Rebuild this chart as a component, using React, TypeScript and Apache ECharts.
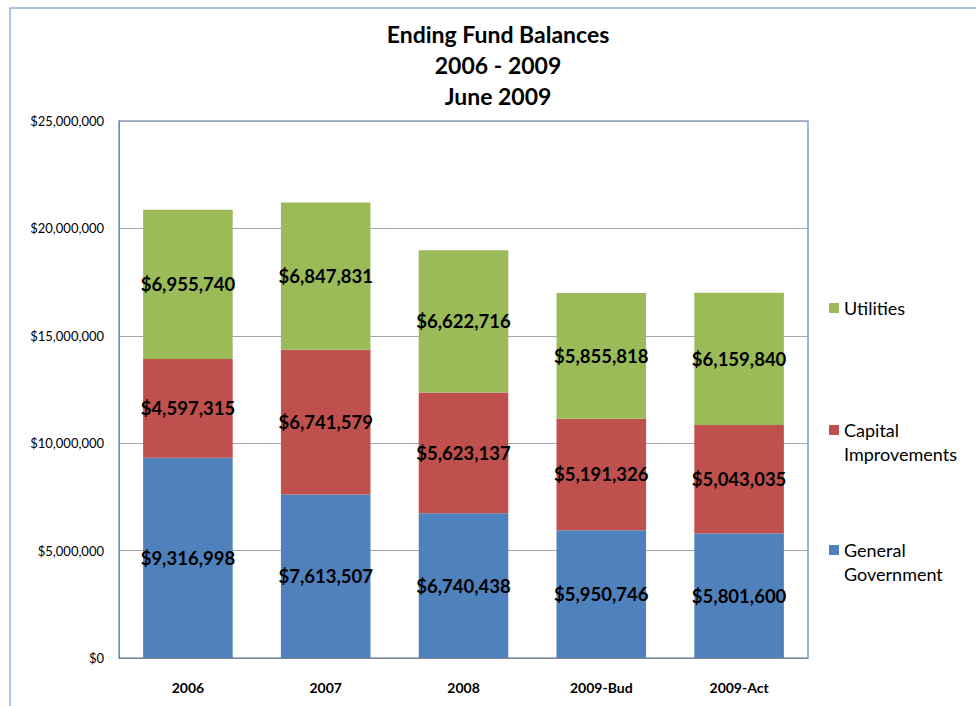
import React, { useEffect, useRef } from "react";
import * as echarts from "echarts";

const categories = ["2006", "2007", "2008", "2009-Bud", "2009-Act"];
const generalGovernment = [9316998, 7613507, 6740438, 5950746, 5801600];
const capitalImprovements = [4597315, 6741579, 5623137, 5191326, 5043035];
const utilities = [6955740, 6847831, 6622716, 5855818, 6159840];
const titleLines = ["Ending Fund Balances", "2006 - 2009", "June 2009"];

const FONT = "Lato";

const money = (v: number) => "$" + Math.round(v).toLocaleString("en-US");

export default function App() {
  const ref = useRef<HTMLDivElement>(null);
  useEffect(() => {
    if (!ref.current) return;
    const chart = echarts.init(ref.current, undefined, { renderer: "svg" });
    const label = {
      show: true,
      position: "inside",
      color: "#000",
      fontFamily: FONT,
      fontWeight: "bold",
      fontSize: 18.5,
      formatter: (p: any) => money(p.value),
    };
    const legendBase = {
      orient: "vertical",
      left: 829,
      padding: 0,
      itemWidth: 10,
      itemHeight: 10,
      icon: "rect",
      selectedMode: false,
    };
    const legendText = {
      fontFamily: FONT,
      fontSize: 18,
      color: "#000",
      lineHeight: 24,
    };
    chart.setOption({
      animation: false,
      backgroundColor: "#fff",
      color: ["#4f81bd", "#c0504d", "#9bbb59"],
      title: {
        text: titleLines.join("\n"),
        left: 493,
        top: 13,
        textAlign: "center",
        textStyle: {
          fontFamily: FONT,
          fontWeight: "bold",
          fontSize: 23,
          lineHeight: 31,
          color: "#000",
        },
      },
      legend: [
        { ...legendBase, top: 296, data: ["Utilities"], textStyle: legendText },
        {
          ...legendBase,
          top: 394,
          data: ["Capital Improvements"],
          formatter: () => "\nCapital\nImprovements",
          textStyle: legendText,
        },
        {
          ...legendBase,
          top: 514,
          data: ["General Government"],
          formatter: () => "\nGeneral\nGovernment",
          textStyle: legendText,
        },
      ],
      grid: {
        left: 119,
        top: 121,
        right: 168,
        bottom: 48,
        show: true,
        borderColor: "#7f9ccb",
        borderWidth: 1.5,
        containLabel: false,
      },
      xAxis: {
        type: "category",
        data: categories,
        axisLine: { show: true, lineStyle: { color: "#868686", width: 1 } },
        axisTick: { show: false },
        axisLabel: {
          margin: 22,
          fontFamily: FONT,
          fontWeight: "bold",
          fontSize: 14,
          color: "#000",
        },
      },
      yAxis: {
        type: "value",
        min: 0,
        max: 25000000,
        interval: 5000000,
        axisLine: { show: true, lineStyle: { color: "#868686", width: 1 } },
        axisTick: { show: false },
        splitLine: { lineStyle: { color: "#a6a6a6", width: 1 } },
        axisLabel: {
          margin: 15,
          fontFamily: FONT,
          fontSize: 13,
          color: "#000",
          formatter: (v: number) => money(v),
        },
      },
      graphic: [
        {
          type: "rect",
          shape: { x: 10, y: 8, width: 990, height: 720 },
          style: { fill: "none", stroke: "#8db3e2", lineWidth: 1.5 },
          silent: true,
        },
      ],
      series: [
        {
          name: "General Government",
          type: "bar",
          stack: "total",
          barWidth: "65%",
          data: generalGovernment,
          label,
        },
        {
          name: "Capital Improvements",
          type: "bar",
          stack: "total",
          barWidth: "65%",
          data: capitalImprovements,
          label,
        },
        {
          name: "Utilities",
          type: "bar",
          stack: "total",
          barWidth: "65%",
          data: utilities,
          label,
        },
      ],
    });
    return () => chart.dispose();
  }, []);
  return (
    <div
      ref={ref}
      style={{ position: "fixed", left: 0, top: 0, width: 976, height: 706 }}
    />
  );
}
